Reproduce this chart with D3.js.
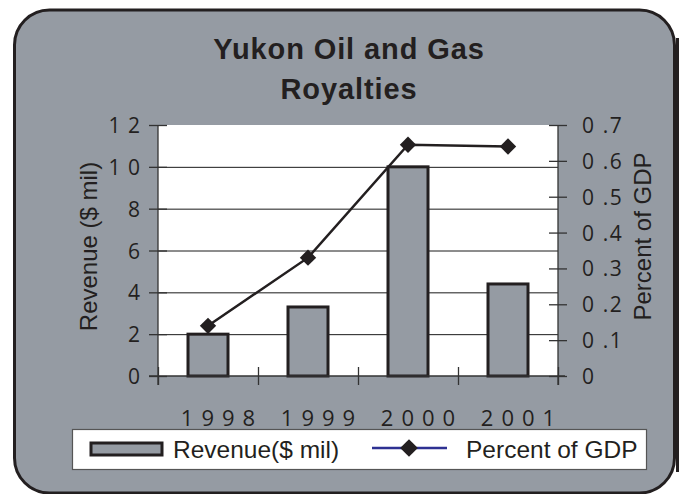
<!DOCTYPE html>
<html>
<head>
<meta charset="utf-8">
<script src="https://cdn.jsdelivr.net/npm/d3@7"></script>
<style>
  html, body { margin: 0; padding: 0; background: #ffffff; }
  svg { display: block; }
</style>
</head>
<body>
<script>
// ---- data ----
const categories = ["1998", "1999", "2000", "2001"];
const revenue = [2.0, 3.3, 10.0, 4.4];
const gdpPercent = [0.14, 0.33, 0.645, 0.64];
const leftTicks = [0, 2, 4, 6, 8, 10, 12];
const leftTickLabels = ["0", "2", "4", "6", "8", "1 0", "1 2"];
const rightTicks = [0, 0.1, 0.2, 0.3, 0.4, 0.5, 0.6, 0.7];
const rightTickLabels = ["0", "0 .1", "0 .2", "0 .3", "0 .4", "0 .5", "0 .6", "0 .7"];
const titleLines = ["Yukon Oil and Gas", "Royalties"];
const seriesNames = ["Revenue($ mil)", "Percent of GDP"];

// ---- layout ----
const W = 679, H = 494;
const plot = { left: 158, right: 558, top: 125, bottom: 376 };
const gray = "#959ba3";
const ink = "#231f20";

const svg = d3.select("body").append("svg").attr("width", W).attr("height", H);

// outer rounded frame
svg.append("rect")
  .attr("x", 14.5).attr("y", 10).attr("width", 660).attr("height", 483)
  .attr("rx", 35).attr("ry", 35)
  .attr("fill", gray).attr("stroke", ink).attr("stroke-width", 3);
svg.append("rect").attr("x", 676).attr("y", 38).attr("width", 3).attr("height", 434).attr("fill", ink);

// title
svg.append("g").selectAll("text").data(titleLines).join("text")
  .attr("x", 349).attr("y", (d, i) => 59 + i * 40)
  .attr("text-anchor", "middle")
  .attr("font-family", "'Liberation Sans', Arial, sans-serif")
  .attr("font-weight", "bold").attr("font-size", 29)
  .attr("letter-spacing", 0.9)
  .attr("fill", ink)
  .text(d => d);

// scales
const x = d3.scaleBand().domain(categories).range([plot.left, plot.right])
  .paddingInner(0.6).paddingOuter(0.3);
const yL = d3.scaleLinear().domain([0, 12]).range([plot.bottom, plot.top]);
const yR = d3.scaleLinear().domain([0, 0.7]).range([plot.bottom, plot.top]);

// plot area
svg.append("rect").attr("x", plot.left).attr("y", plot.top)
  .attr("width", plot.right - plot.left).attr("height", plot.bottom - plot.top)
  .attr("fill", "#ffffff");

// gridlines
const grid = svg.append("g").attr("transform", `translate(${plot.left},0)`)
  .call(d3.axisLeft(yL).tickValues(leftTicks.filter(v => v > 0 && v < 12))
    .tickSize(-(plot.right - plot.left)).tickFormat(""));
grid.select(".domain").remove();
grid.selectAll(".tick line").attr("stroke", "#1a1a1a").attr("stroke-width", 1);

// bars
svg.append("g").selectAll("rect").data(categories).join("rect")
  .attr("x", d => x(d)).attr("width", x.bandwidth())
  .attr("y", (d, i) => yL(revenue[i]))
  .attr("height", (d, i) => yL(0) - yL(revenue[i]))
  .attr("fill", gray).attr("stroke", ink).attr("stroke-width", 3);

const tickFont = "'Open Sans', 'Noto Sans', sans-serif";

// left axis
const gL = svg.append("g").attr("transform", `translate(${plot.left},0)`)
  .call(d3.axisLeft(yL).tickValues(leftTicks).tickSize(9).tickPadding(7)
    .tickFormat((d, i) => leftTickLabels[i]));
gL.select(".domain").attr("d", `M0,${plot.top}V${plot.bottom + 9}`).attr("stroke", "#333").attr("stroke-width", 1.3);
gL.selectAll(".tick line").attr("stroke", "#333").attr("stroke-width", 1.3).attr("x2", -9).attr("x1", 9);
gL.selectAll(".tick text").attr("font-family", tickFont).attr("font-size", 21)
  .attr("letter-spacing", 1).attr("fill", ink).attr("dx", -1).attr("dy", "0.36em");

// right axis
const gR = svg.append("g").attr("transform", `translate(${plot.right},0)`)
  .call(d3.axisRight(yR).tickValues(rightTicks).tickSize(9).tickPadding(15)
    .tickFormat((d, i) => rightTickLabels[i]));
gR.select(".domain").attr("d", `M0,${plot.top}V${plot.bottom + 9}`).attr("stroke", "#333").attr("stroke-width", 1.3);
gR.selectAll(".tick line").attr("stroke", "#333").attr("stroke-width", 1.3).attr("x1", -9).attr("x2", 9);
gR.selectAll(".tick text").attr("font-family", tickFont).attr("font-size", 21)
  .attr("letter-spacing", 1.6).attr("fill", ink).attr("dy", "0.36em");

// bottom axis: category boundary ticks
const boundaries = categories.map(c => x(c) - x.step() * x.paddingOuter()).concat([plot.right]);
const xB = d3.scaleLinear().domain([plot.left, plot.right]).range([plot.left, plot.right]);
const gB = svg.append("g").attr("transform", `translate(0,${plot.bottom})`)
  .call(d3.axisBottom(xB).tickValues(boundaries).tickSize(9).tickFormat(""));
gB.select(".domain").attr("d", `M${plot.left - 9},0H${plot.right + 7}`).attr("stroke", "#333").attr("stroke-width", 1.3);
gB.selectAll(".tick line").attr("stroke", "#333").attr("stroke-width", 1.3).attr("y1", -9).attr("y2", 9);

// category labels
svg.append("g").selectAll("text").data(categories).join("text")
  .attr("x", d => x(d) + x.bandwidth() / 2 + 10 + 4)
  .attr("y", 426)
  .attr("text-anchor", "middle")
  .attr("font-family", tickFont).attr("font-size", 22)
  .attr("letter-spacing", 8).attr("fill", ink)
  .text(d => d);

// line series
const pts = categories.map((c, i) => [x(c) + x.bandwidth() / 2, yR(gdpPercent[i])]);
svg.append("path").datum(pts)
  .attr("d", d3.line())
  .attr("fill", "none").attr("stroke", ink).attr("stroke-width", 2.5);
const diamond = d3.symbol().type(d3.symbolDiamond2).size(170);
svg.append("g").selectAll("path").data(pts).join("path")
  .attr("transform", d => `translate(${d[0]},${d[1]})`)
  .attr("d", diamond).attr("fill", ink);

// axis titles
const labelFont = "'Liberation Sans', Arial, sans-serif";
svg.append("text")
  .attr("transform", `translate(97,${(plot.top + plot.bottom) / 2 - 4}) rotate(-90)`)
  .attr("text-anchor", "middle").attr("font-family", labelFont).attr("font-size", 24)
  .attr("fill", ink).text("Revenue ($ mil)");
svg.append("text")
  .attr("transform", `translate(651,${(plot.top + plot.bottom) / 2 - 14}) rotate(-90)`)
  .attr("text-anchor", "middle").attr("font-family", labelFont).attr("font-size", 24)
  .attr("fill", ink).text("Percent of GDP");

// legend
const lg = svg.append("g");
lg.append("rect").attr("x", 72.5).attr("y", 429.5).attr("width", 574).attr("height", 40)
  .attr("fill", "#ffffff").attr("stroke", "#555").attr("stroke-width", 1.2);
lg.append("rect").attr("x", 91).attr("y", 443).attr("width", 71).attr("height", 12)
  .attr("fill", gray).attr("stroke", ink).attr("stroke-width", 3);
lg.append("text").attr("x", 173).attr("y", 457.5)
  .attr("font-family", labelFont).attr("font-size", 24.5).attr("fill", ink).text(seriesNames[0]);
lg.append("line").attr("x1", 372).attr("x2", 447).attr("y1", 448).attr("y2", 448)
  .attr("stroke", "#2e3192").attr("stroke-width", 2.5);
lg.append("path").attr("transform", "translate(409,448)")
  .attr("d", d3.symbol().type(d3.symbolDiamond2).size(200)).attr("fill", ink);
lg.append("text").attr("x", 466).attr("y", 457.5)
  .attr("font-family", labelFont).attr("font-size", 24.5).attr("fill", ink).text(seriesNames[1]);
</script>
</body>
</html>
